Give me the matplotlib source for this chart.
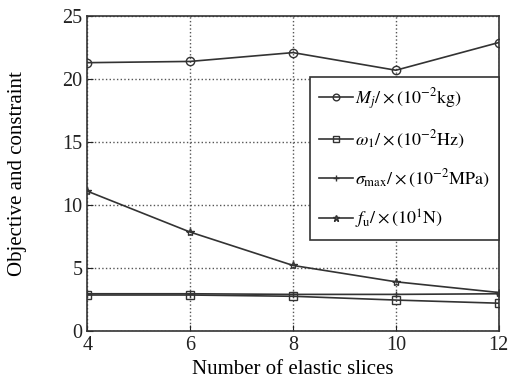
import matplotlib
matplotlib.use("Agg")
import matplotlib.pyplot as plt

plt.rcParams['font.family'] = ['Liberation Serif', 'DejaVu Serif']
plt.rcParams['mathtext.fontset'] = 'stix'

slices = [4, 6, 8, 10, 12]
mass = [21.3, 21.4, 22.1, 20.7, 22.9]
omega = [2.85, 2.85, 2.75, 2.45, 2.2]
sigma = [2.95, 2.95, 2.9, 2.9, 2.95]
force = [11.1, 7.85, 5.2, 3.9, 3.05]

labels = [r'$M_j/\times(10^{-2}\mathrm{kg})$',
          r'$\omega_1/\times(10^{-2}\mathrm{Hz})$',
          r'$\sigma_{\mathrm{max}}/\times(10^{-2}\mathrm{MPa})$',
          r'$f_\mathrm{u}/\times(10^{1}\mathrm{N})$']

c = '#333333'
fig = plt.figure(figsize=(5.1, 3.83), dpi=100)
ax = fig.add_axes([0.171, 0.136, 0.807, 0.822])

ax.plot(slices, mass, color=c, lw=1.2, marker='o', ms=6, mfc='none', mec=c, label=labels[0])
ax.plot(slices, omega, color=c, lw=1.2, marker='s', ms=6, mfc='none', mec=c, label=labels[1])
ax.plot(slices, sigma, color=c, lw=1.2, marker='+', ms=5, mec=c, label=labels[2])
ax.plot(slices, force, color=c, lw=1.2, marker='*', ms=6, mfc='none', mec=c, label=labels[3])

ax.set_xlim(4, 12)
ax.set_ylim(0, 25)
ax.set_xticks(slices)
ax.set_yticks([0, 5, 10, 15, 20, 25])
ax.tick_params(direction='in', labelsize=14.5, colors='#222222', length=4)
ax.grid(True, linestyle=':', color='#555555', lw=1)
for s in ax.spines.values():
    s.set_color('#333333')
    s.set_linewidth(1.2)

ax.set_xlabel('Number of elastic slices', fontsize=15, labelpad=4)
ax.set_ylabel('Objective and constraint', fontsize=15)
ax.yaxis.set_label_coords(-0.146, 0.5)

leg = ax.legend(loc='upper right', bbox_to_anchor=(1.0, 0.806), borderaxespad=0,
                fontsize=13, fancybox=False, framealpha=1, edgecolor='#333333',
                handlelength=1.9, handletextpad=0.1, labelspacing=0.95,
                borderpad=0.5, markerscale=0.8)
leg.get_frame().set_linewidth(1.2)

fig.savefig('out.png', dpi=100)
